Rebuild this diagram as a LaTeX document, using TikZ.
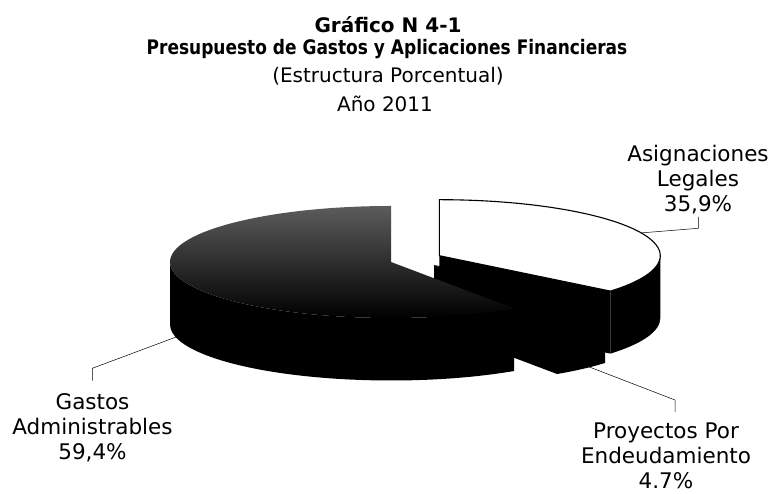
\documentclass[tikz,border=0pt]{standalone}
\usepackage{fontspec}
\setmainfont{DejaVu Sans}
\newfontfamily\headfont[FakeStretch=0.85]{DejaVu Sans}
\usepackage{tikz}
\usetikzlibrary{calc}

\begin{document}
\begin{tikzpicture}[
    x=1pt, y=1pt,
    rim/.style={x radius=221pt, y radius=56pt},
    slice/.style={fill=black},
    leader/.style={draw=black, line width=0.5pt},
    head/.style={font=\bfseries\fontsize{20}{24}\selectfont, anchor=base, inner sep=0pt},
    headcond/.style={font=\headfont\bfseries\fontsize{20}{24}\selectfont, anchor=base, inner sep=0pt},
    subhead/.style={font=\fontsize{20}{24}\selectfont, anchor=base, inner sep=0pt},
    lbl/.style={font=\fontsize{21.5}{25}\selectfont, align=center, anchor=base, inner sep=0pt}
]
\def\radii{221pt and 56pt}
\def\depth{62.5pt}

\fill[white] (0,0) rectangle (772,494);
\useasboundingbox (0,0) rectangle (772,494);

% title
\node[head] (title) at (388,461) {Gráfico N 4-1};
\node[headcond] (subtitle) at (387,439) {Presupuesto de Gastos y Aplicaciones Financieras};
\node[subhead] (struct) at (388,411.5) {(Estructura Porcentual)};
\node[subhead] (year) at (385,382.5) {Año 2011};

% slice centres (exploded pie)
\coordinate (gcen) at (391,232);
\coordinate (acen) at (439.3,238.3);
\coordinate (pcen) at (434,229);

% Asignaciones Legales
\fill[slice] (acen) -- ($(acen)+(-39.24:\radii)$) -- ++(0,-\depth) -- ($(acen)+(0,-\depth)$) -- cycle;
\fill[slice] ($(acen)+(-39.24:\radii)$) arc[rim, start angle=-39.24, end angle=0]
    -- ++(0,-\depth) arc[rim, start angle=0, end angle=-39.24] -- cycle;
\filldraw[fill=white, draw=black, line width=1.1pt] (acen) -- ($(acen)+(-39.24:\radii)$)
    arc[rim, start angle=-39.24, end angle=90] -- cycle;

% Proyectos por endeudamiento
\fill[slice] (pcen) -- ($(pcen)+(-56.16:\radii)$) -- ++(0,-\depth) -- ($(pcen)+(0,-\depth)$) -- cycle;
\fill[slice] ($(pcen)+(-56.16:\radii)$) arc[rim, start angle=-56.16, end angle=-39.24]
    -- ++(0,-\depth) arc[rim, start angle=-39.24, end angle=-56.16] -- cycle;
\fill[slice] (pcen) -- ($(pcen)+(-56.16:\radii)$) arc[rim, start angle=-56.16, end angle=-39.24] -- cycle;

% Gastos administrables
\fill[slice] ($(gcen)+(180:\radii)$) arc[rim, start angle=180, end angle=303.84]
    -- ++(0,-\depth) arc[rim, start angle=303.84, end angle=180] -- cycle;
\shade[top color=black!64, middle color=black!88, bottom color=black] (gcen) -- ($(gcen)+(90:\radii)$)
    arc[rim, start angle=90, end angle=303.84] -- cycle;

% labels
\node[lbl] (asiglbl) at (698,282) {Asignaciones\\Legales\\35,9\%};
\node[lbl] (gastoslbl) at (92.5,34) {Gastos\\Administrables\\59,4\%};
\node[lbl] (proylbl) at (666,5) {Proyectos Por\\Endeudamiento\\4.7\%};

\coordinate (asigtip) at ($(acen)+(24:\radii)$);
\coordinate (asigbend) at (698.3,265.7);
\coordinate (asigfoot) at (698.3,277);
\coordinate (gastostip) at ($(gcen)+(195:\radii)+(0,-60)$);
\coordinate (gastosbend) at (92.3,125.7);
\coordinate (gastosfoot) at (92.3,113.3);
\coordinate (proytip) at ($(pcen)+(-46:\radii)+(0,-61)$);
\coordinate (proybend) at (675,94);
\coordinate (proyfoot) at (675,82);

\draw[leader] (asigtip) -- (asigbend) -- (asigfoot);
\draw[leader] (gastostip) -- (gastosbend) -- (gastosfoot);
\draw[leader] (proytip) -- (proybend) -- (proyfoot);

\end{tikzpicture}
\end{document}
